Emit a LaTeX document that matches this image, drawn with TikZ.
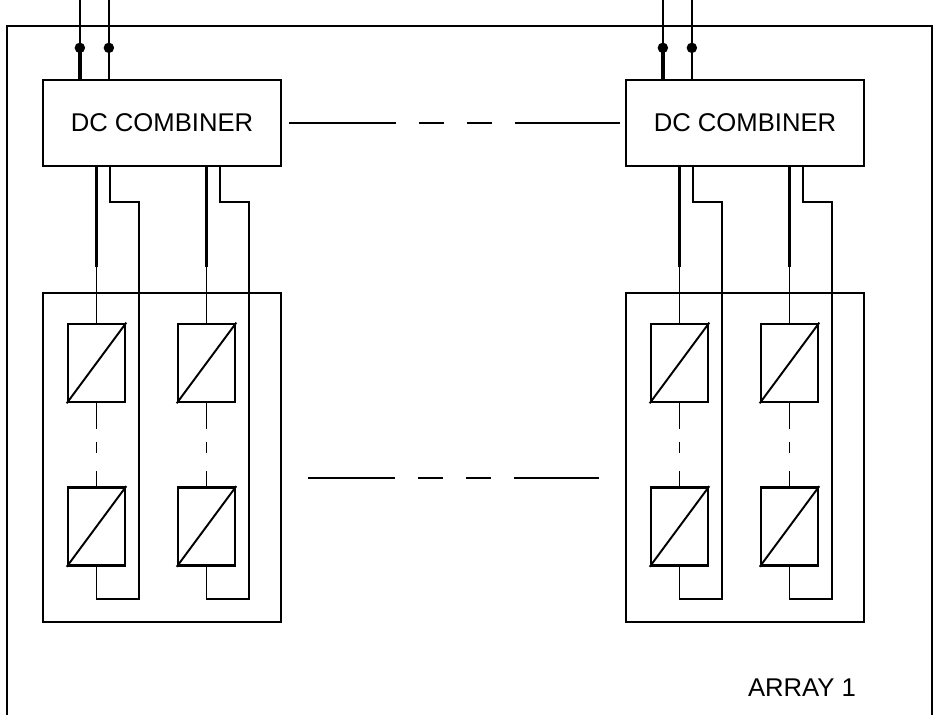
\documentclass[tikz,border=0pt]{standalone}
\usepackage{fontspec}
\setmainfont{Liberation Sans}
\usetikzlibrary{positioning}

\tikzset{
  wire/.style={line width=1.1pt},
  bus/.style={line width=2pt},
  combiner/.style={draw, line width=1.3pt, minimum width=4.76cm, minimum height=1.72cm,
    font=\fontsize{14.6}{17}\selectfont},
  panel/.style={draw, line width=1.5pt, minimum width=1.14cm, minimum height=1.56cm},
  group/.style={draw, line width=1.2pt, minimum width=4.76cm, minimum height=6.58cm},
  jdot/.style={circle, fill, inner sep=0pt, minimum size=0.21cm},
  longdash/.style={dash pattern=on 2.14cm off 0.46cm on 0.5cm off 0.46cm on 0.5cm off 0.46cm on 2.14cm},
  middash/.style={dash pattern=on 1.74cm off 0.46cm on 0.5cm off 0.46cm on 0.5cm off 0.46cm on 1.74cm},
  moddash/.style={dash pattern=on 0.52cm off 0.26cm on 0.22cm off 0.36cm on 0.34cm}
}

\begin{document}
\begin{tikzpicture}
    \useasboundingbox (0,0) rectangle (18.7,14.3);
    % array frame, open at the bottom
    \draw[line width=1.2pt] (0.14,0) -- (0.14,13.78) -- (18.64,13.78) -- (18.64,0);
    \node[font=\fontsize{14.6}{17}\selectfont] (arr) at (16.04,0.54) {ARRAY 1};

    \foreach \a/\s in {L/0, R/11.66} {
      \node[combiner] (cb\a) at (3.24+\s,11.84) {DC COMBINER};
      \node[group] (grp\a) at (3.24+\s,5.15) {};
      % outgoing pair
      \draw[bus] ([xshift=0.76cm]cb\a.north west) -- ++(0,0.62) node[jdot] (d1\a) {};
      \draw[wire] (d1\a.center) -- ++(0,0.98);
      \draw[wire] ([xshift=1.34cm]cb\a.north west) -- ++(0,0.62) node[jdot] (d2\a) {};
      \draw[wire] (d2\a.center) -- ++(0,0.98);
      \foreach \c/\x in {1/1.93, 2/4.13} {
        \node[panel] (top\a\c) at (\x+\s,7.04) {};
        \node[panel] (bot\a\c) at (\x+\s,3.77) {};
        \draw[wire] (top\a\c.south west) -- (top\a\c.north east);
        \draw[wire] (bot\a\c.south west) -- (bot\a\c.north east);
        \draw[wire, moddash] (top\a\c.south) -- (bot\a\c.north);
        % string feed and return
        \draw[bus] (cb\a.south -| top\a\c.north) -- ++(0,-2);
        \draw[wire] (cb\a.south -| top\a\c.north) -- (top\a\c.north);
        \draw[wire] ([xshift=0.27cm]cb\a.south -| top\a\c.north) |- ++(0.58,-0.7)
              -- ++(0,-7.94) -| (bot\a\c.south);
      }
    }
    \draw[wire, longdash] ([xshift=0.14cm]cbL.east) -- ([xshift=-0.1cm]cbR.west);
    \draw[wire, middash] ([shift={(0.52,-0.41)}]grpL.east) -- ([shift={(-0.52,-0.41)}]grpR.west);
  \end{tikzpicture}
\end{document}
